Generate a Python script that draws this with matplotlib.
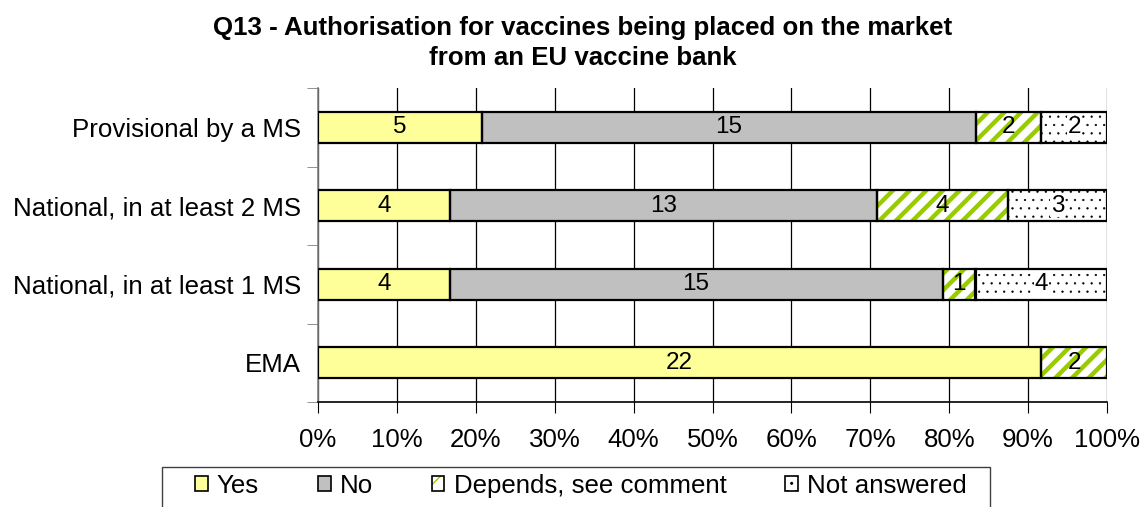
import matplotlib
matplotlib.use('Agg')
import matplotlib.pyplot as plt
from matplotlib.patches import Patch, Rectangle
from matplotlib.legend_handler import HandlerTuple
import numpy as np

plt.rcParams['font.family'] = ['Liberation Sans', 'DejaVu Sans']

categories = ['Provisional by a MS', 'National, in at least 2 MS',
              'National, in at least 1 MS', 'EMA']
series_names = ['Yes', 'No', 'Depends, see comment', 'Not answered']
yes_vals = [5, 4, 4, 22]
no_vals = [15, 13, 15, 0]
depends_vals = [2, 4, 1, 2]
notans_vals = [2, 3, 4, 0]

title = 'Q13 - Authorisation for vaccines being placed on the market\nfrom an EU vaccine bank'

#______________________________________________________________________________

counts = np.array([yes_vals, no_vals, depends_vals, notans_vals], dtype=float)
totals = counts.sum(axis=0)
shares = counts / totals

fs = 18.6
fig = plt.figure(figsize=[11.42, 5.07], dpi=100)
ax = fig.add_axes([318/1142, 1 - 402/507, 789/1142, 314/507])

ypos = np.arange(len(categories))
barh = 0.4
green = '#99CC00'

styles = [dict(face='#FFFF99', hatch=None, hcol=None),
          dict(face='#C0C0C0', hatch=None, hcol=None),
          dict(face='white', hatch='//', hcol=green),
          dict(face='white', hatch='..', hcol='black')]
hatch_lw = [0.1, 0.1, 3.2, 0.4]

left = np.zeros(len(categories))
handles = []
for i, st in enumerate(styles):
    vals = shares[i]
    # fill layer (with hatch if any)
    with plt.rc_context({'hatch.linewidth': hatch_lw[i]}):
        fill = ax.barh(ypos, vals, left=left, height=barh, color=st['face'],
                       edgecolor=st['hcol'] if st['hcol'] else 'none',
                       hatch=st['hatch'], linewidth=0, zorder=3)
    for p in fill:
        if hasattr(p, 'set_hatch_linewidth'):
            p.set_hatch_linewidth(hatch_lw[i])
    # outline layer
    outline = ax.barh(ypos, vals, left=left, height=barh, fill=False,
                      edgecolor='black', linewidth=1.6, zorder=4)
    for j, p in enumerate(outline):
        if counts[i, j] == 0:
            p.set_visible(False)
            fill[j].set_visible(False)
    labels = [('%d' % c if c > 0 else '') for c in counts[i]]
    if i == 3:
        ax.bar_label(outline, labels=labels, label_type='center', fontsize=17.5,
                     zorder=6, bbox=dict(facecolor='white', edgecolor='none', pad=0.5))
    else:
        ax.bar_label(outline, labels=labels, label_type='center', fontsize=17.5,
                     zorder=6)
    # legend handle
    with plt.rc_context({'hatch.linewidth': hatch_lw[i] * 0.7}):
        h1 = Patch(facecolor=st['face'],
                   edgecolor=st['hcol'] if st['hcol'] else 'none',
                   hatch=st['hatch'], linewidth=0)
    h2 = Patch(fill=False, edgecolor='black', linewidth=1.2)
    handles.append((h1, h2))
    left = left + vals

ax.set_xlim(0, 1)
ax.set_ylim(len(categories) - 0.5, -0.5)
ax.set_xticks(np.arange(0, 1.01, 0.1))
ax.set_xticklabels(['%d%%' % v for v in range(0, 101, 10)], fontsize=fs)
ax.set_yticks(ypos)
ax.set_yticklabels(categories, fontsize=fs)
ax.set_yticks(np.arange(-0.5, len(categories), 1.0), minor=True)
ax.tick_params(axis='y', which='major', length=0, pad=12)
ax.tick_params(axis='y', which='minor', length=8, color='#808080', direction='out')
ax.tick_params(axis='x', which='major', length=8, color='black', pad=11,
               direction='out')
ax.grid(axis='x', color='black', linewidth=0.9, zorder=0)
ax.set_axisbelow(True)

ax.spines['top'].set_visible(False)
ax.spines['right'].set_visible(False)
ax.spines['left'].set_color('#808080')
ax.spines['left'].set_linewidth(1.2)
ax.spines['bottom'].set_color('black')
ax.spines['bottom'].set_linewidth(1.2)

fig.text(583/1142, 1 - 16/507, title, ha='center', va='top', fontsize=fs,
         fontweight='bold', linespacing=1.3)

# legend frame drawn separately (wider side padding than top)
fig.patches.append(Rectangle((162/1142, -0.05), 828/1142, 0.05 + 1 - 467/507,
                             transform=fig.transFigure, fill=False,
                             edgecolor='#404040', linewidth=1.0))
leg = fig.legend(handles, series_names,
                 handler_map={tuple: HandlerTuple(ndivide=1, pad=0)},
                 loc='upper left', bbox_to_anchor=(195/1142, 1 - 474/507),
                 ncol=4, fontsize=fs, frameon=False,
                 handlelength=0.5, handleheight=0.5,
                 handletextpad=0.35, columnspacing=2.27, borderpad=0,
                 borderaxespad=0)

plt.savefig('out.png', dpi=100)
